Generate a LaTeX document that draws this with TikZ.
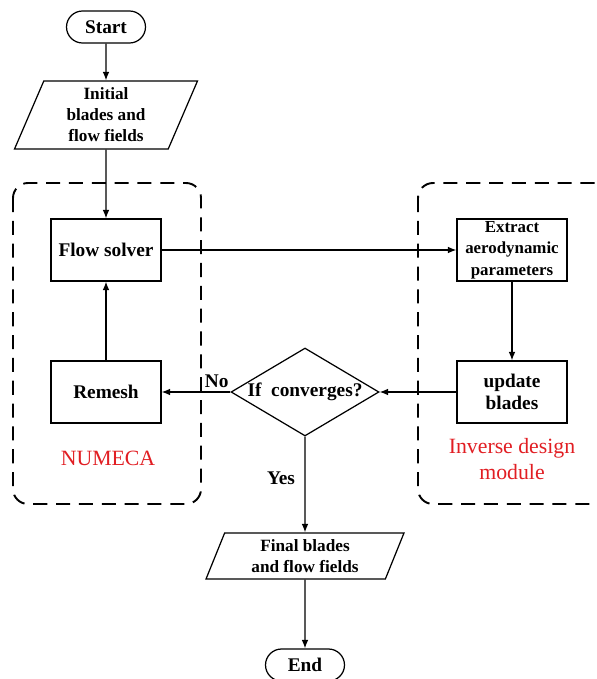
\documentclass[tikz,border=0pt]{standalone}
\usepackage{fontspec}
\setmainfont{Liberation Serif}
\usetikzlibrary{shapes.geometric,arrows.meta}

\definecolor{modred}{RGB}{225,30,35}

\tikzstyle{block}=[rectangle,
    draw=black,
    line width=0.7pt,
    minimum height=1.24cm,
    minimum width=2.2cm,
    inner sep=1pt,
    align=center,
    font=\fontsize{11}{12.5}\selectfont\bfseries]
\tikzstyle{smallblock}=[block,
    font=\fontsize{9.6}{12.2}\selectfont\bfseries]
\tikzstyle{terminal}=[rectangle,
    rounded corners=0.32cm,
    draw=black,
    line width=0.7pt,
    minimum height=0.64cm,
    minimum width=1.58cm,
    font=\fontsize{11}{12.5}\selectfont\bfseries]
\tikzstyle{io}=[trapezium,
    trapezium left angle=63,
    trapezium right angle=117,
    trapezium stretches body=true,
    draw=black,
    line width=0.7pt,
    inner sep=1pt,
    align=center,
    font=\fontsize{9.8}{11.9}\selectfont\bfseries]
\tikzstyle{decision}=[diamond,
    aspect=1.7,
    inner sep=0pt,
    draw=black,
    line width=0.7pt,
    minimum width=2.96cm,
    minimum height=1.76cm,
    font=\fontsize{11}{12.5}\selectfont\bfseries]
\tikzstyle{module}=[draw=black,
    line width=1.1pt,
    dash pattern=on 8pt off 5pt,
    rounded corners=0.3cm]
\tikzstyle{modtext}=[text=modred,
    align=center,
    font=\fontsize{12.4}{15.3}\selectfont]
\tikzstyle{answer}=[font=\fontsize{11}{12.5}\selectfont\bfseries]

\begin{document}
\begin{tikzpicture}[x=0.02cm, y=-0.02cm, line width=0.75pt,
    >={Latex[length=4.8pt,width=3.8pt]}]
    \useasboundingbox (0,0) rectangle (596,679);
    \clip (0,0) rectangle (596,679);

    % module frames
    \draw [module] (13,183) rectangle (201,504);
    \draw [module] (418,183) rectangle (625,504);

    \node (start) [terminal] at (106,27) {Start};
    \node (init) [io, minimum width=3.66cm, minimum height=1.36cm] at (106,115)
        {Initial\\blades and\\flow fields};
    \node (solver) [block] at (106,250) {Flow solver};
    \node (remesh) [block] at (106,392) {Remesh};
    \node (extract) [smallblock] at (512,250) {Extract\\aerodynamic\\parameters};
    \node (update) [block] at (512,392) {update\\blades};
    \node (conv) [decision] at (305,392) {If~~converges?};
    \node (final) [io, minimum width=3.96cm, minimum height=0.92cm] at (305,556)
        {Final blades\\and flow fields};
    \node (end) [terminal] at (305,665) {End};

    \node (numeca) [modtext] at (108,458) {NUMECA};
    \node (inverse) [modtext] at (512,459) {Inverse design\\module};

    \draw [draw,->] (start) -- (init);
    \draw [draw,->] (init) -- (solver);
    \draw [draw,->] (solver) -- (extract);
    \draw [draw,->] (extract) -- (update);
    \draw [draw,->] (update) -- (conv);
    \draw [draw,->] (conv) -- node [answer, pos=0.2, above=-1pt] {No} (remesh);
    \draw [draw,->] (remesh) -- (solver);
    \draw [draw,->] (conv) -- node [answer, pos=0.43, left=2pt] {Yes} (final);
    \draw [draw,->] (final) -- (end);

\end{tikzpicture}
\end{document}
